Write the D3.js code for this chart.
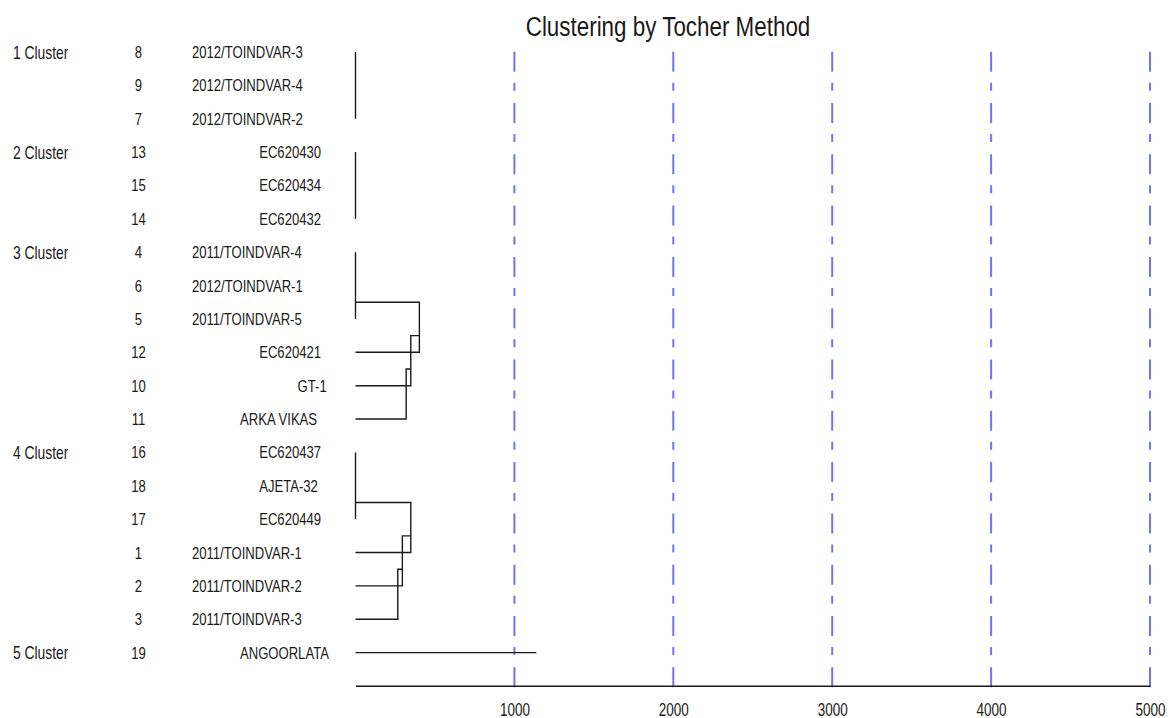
<!DOCTYPE html>
<html>
<head>
<meta charset="utf-8">
<script src="https://cdn.jsdelivr.net/npm/d3@7"></script>
<style>
    body { margin: 0; background: #fff; }
    text { font-family: "Liberation Sans", Arial, sans-serif; fill: #1a1a1a; }
</style>
</head>
<body>
<div id="chart"></div>
<script>
// clusters, in drawing order
var clusterLabels = ["1 Cluster", "2 Cluster", "3 Cluster", "4 Cluster", "5 Cluster"];
var clusterSizes = [3, 3, 6, 6, 1];

// genotypes, top to bottom
var genotypeIds = [8, 9, 7, 13, 15, 14, 4, 6, 5, 12, 10, 11, 16, 18, 17, 1, 2, 3, 19];
var genotypeNames = ["2012/TOINDVAR-3", "2012/TOINDVAR-4", "2012/TOINDVAR-2",
    "EC620430", "EC620434", "EC620432",
    "2011/TOINDVAR-4", "2012/TOINDVAR-1", "2011/TOINDVAR-5", "EC620421", "GT-1", "ARKA VIKAS",
    "EC620437", "AJETA-32", "EC620449", "2011/TOINDVAR-1", "2011/TOINDVAR-2", "2011/TOINDVAR-3",
    "ANGOORLATA"];
// distance at which each genotype joins its cluster (0 = core)
var joinDistances = [0, 0, 0, 0, 0, 0, 0, 0, 0, 402, 348, 319, 0, 0, 0, 348, 295, 266, 1138];

var tickValues = [1000, 2000, 3000, 4000, 5000];

var width = 1175,
    height = 718,
    sx = 0.77;

var svg = d3.select("#chart").append("svg")
    .attr("width", width)
    .attr("height", height);

var x = d3.scaleLinear()
    .domain([0, 5000])
    .range([355.5, 1150]);

var y = d3.scaleLinear()
    .domain([0, 19])
    .range([52, 686]);

// which cluster each row belongs to
var rows = [];
var start = 0;
clusterSizes.forEach(function (n, c) {
    for (var i = 0; i < n; i++) {
        var k = start + i;
        rows.push({
            row: k, cluster: c, pos: i, start: start,
            id: genotypeIds[k], name: genotypeNames[k], d: joinDistances[k]
        });
    }
    start += n;
});

// blue dash-dot grid lines
svg.selectAll(".grid")
    .data(tickValues)
    .enter().append("line")
    .attr("class", "grid")
    .attr("x1", function (d) { return x(d); })
    .attr("x2", function (d) { return x(d); })
    .attr("y1", y(0) - 0.3)
    .attr("y2", 690)
    .attr("stroke", "#7373f6")
    .attr("stroke-width", 2)
    .attr("stroke-dasharray", "20,11,8,12.3");

// axis
var axis = svg.append("g")
    .attr("transform", "translate(0," + (y(19) - 0.3) + ")")
    .call(d3.axisBottom(x).tickValues(tickValues).tickSize(0).tickSizeOuter(0).tickFormat(d3.format("d")));
axis.select(".domain").attr("stroke", "#1a1a1a").attr("stroke-width", 1.4);
axis.selectAll("text")
    .attr("y", 30)
    .attr("dy", 0)
    .attr("transform", "scale(0.73,1)")
    .style("font-size", "18.5px")
    .style("font-family", "'Liberation Sans', Arial, sans-serif")
    .attr("fill", "#1a1a1a");

// core of each cluster: vertical line at zero
var cores = [];
start = 0;
clusterSizes.forEach(function (n) {
    var m = 0;
    while (m < n && joinDistances[start + m] === 0) m++;
    if (m > 1) cores.push([start, start + m - 1]);
    start += n;
});

svg.selectAll(".core")
    .data(cores)
    .enter().append("line")
    .attr("class", "core")
    .attr("x1", x(0))
    .attr("x2", x(0))
    .attr("y1", function (d) { return y(d[0]); })
    .attr("y2", function (d) { return y(d[1]); })
    .attr("stroke", "#1a1a1a")
    .attr("stroke-width", 1.4);

// joins: step from the previous level down to the new row
svg.selectAll(".join")
    .data(rows.filter(function (r) { return r.d > 0; }))
    .enter().append("path")
    .attr("class", "join")
    .attr("fill", "none")
    .attr("stroke", "#1a1a1a")
    .attr("stroke-width", 1.4)
    .attr("d", function (r) {
        if (r.pos === 0) {
            return "M" + x(0) + "," + y(r.row) + "H" + x(r.d);
        }
        var prev = joinDistances[r.row - 1];
        return "M" + x(prev) + "," + y(r.row - 1.5) +
            "H" + x(r.d) + "V" + y(r.row) + "H" + x(0);
    });

// row labels
svg.selectAll(".cluster")
    .data(rows.filter(function (r) { return r.pos === 0; }))
    .enter().append("text")
    .attr("class", "cluster")
    .attr("transform", function (r) { return "translate(13," + (y(r.row) + 6.5) + ") scale(" + sx + ",1)"; })
    .style("font-size", "18px")
    .text(function (r) { return clusterLabels[r.cluster]; });

svg.selectAll(".id")
    .data(rows)
    .enter().append("text")
    .attr("class", "id")
    .attr("transform", function (r) { return "translate(138.5," + (y(r.row) + 6) + ") scale(" + sx + ",1)"; })
    .attr("text-anchor", "middle")
    .style("font-size", "17px")
    .text(function (r) { return r.id; });

// names sit right-aligned in a fixed-width character field
svg.selectAll(".name")
    .data(rows)
    .enter().append("text")
    .attr("class", "name")
    .attr("transform", function (r) {
        return "translate(" + (336 - r.name.length * 9.6) + "," + (y(r.row) + 6) + ") scale(" + sx + ",1)";
    })
    .style("font-size", "17px")
    .text(function (r) { return r.name; });

// title
svg.append("text")
    .attr("transform", "translate(668,36) scale(0.8,1)")
    .attr("text-anchor", "middle")
    .style("font-size", "28px")
    .attr("fill", "#111")
    .text("Clustering by Tocher Method");
</script>
</body>
</html>
